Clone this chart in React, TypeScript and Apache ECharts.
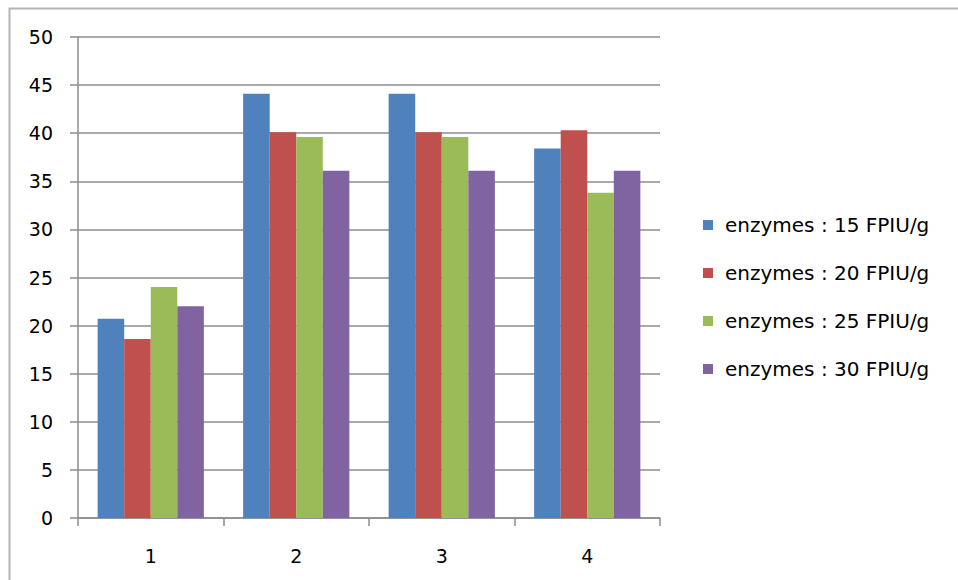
import React, { useEffect, useRef } from "react";
import * as echarts from "echarts";

const categories = ["1", "2", "3", "4"];
const seriesNames = [
  "enzymes : 15 FPIU/g",
  "enzymes : 20 FPIU/g",
  "enzymes : 25 FPIU/g",
  "enzymes : 30 FPIU/g",
];
const s15 = [20.7, 44.1, 44.1, 38.4];
const s20 = [18.6, 40.1, 40.1, 40.3];
const s25 = [24.0, 39.6, 39.6, 33.8];
const s30 = [22.0, 36.1, 36.1, 36.1];
const colors = ["#4F81BD", "#C0504D", "#9BBB59", "#8064A2"];
const yTicks = { min: 0, max: 50, interval: 5 };

export default function App() {
  const ref = useRef<HTMLDivElement>(null);
  useEffect(() => {
    if (!ref.current) return;
    const chart = echarts.init(ref.current, null, { renderer: "svg" });
    const font = "DejaVu Sans";
    const data = [s15, s20, s25, s30];
    chart.setOption({
      animation: false,
      backgroundColor: "#ffffff",
      color: colors,
      textStyle: { fontFamily: font },
      graphic: [
        {
          type: "rect",
          shape: { x: 9.5, y: 8.5, width: 1000, height: 600 },
          style: { fill: "none", stroke: "#b3b3b3", lineWidth: 2 },
          silent: true,
        },
      ],
      grid: { left: 78, top: 37, right: 298, bottom: 62, containLabel: false },
      legend: {
        orient: "vertical",
        left: 703,
        top: 215,
        padding: 0,
        itemWidth: 10,
        itemHeight: 10,
        itemGap: 28,
        icon: "rect",
        textStyle: {
          fontFamily: font,
          fontSize: 20,
          color: "#000",
          padding: [0, 0, 0, 7],
        },
        data: seriesNames,
      },
      xAxis: {
        type: "category",
        data: categories,
        axisLine: { lineStyle: { color: "#8c8c8c", width: 1.5 } },
        axisTick: { show: true, length: 8, lineStyle: { color: "#8c8c8c", width: 1.5 } },
        axisLabel: { color: "#000", fontSize: 19, fontFamily: font, margin: 28 },
        splitLine: { show: false },
      },
      yAxis: {
        type: "value",
        min: yTicks.min,
        max: yTicks.max,
        interval: yTicks.interval,
        axisLine: { show: true, lineStyle: { color: "#8c8c8c", width: 1.5 } },
        axisTick: { show: true, length: 8, lineStyle: { color: "#8c8c8c", width: 1.5 } },
        axisLabel: { color: "#000", fontSize: 19, fontFamily: font, margin: 25 },
        splitLine: { show: true, lineStyle: { color: "#8c8c8c", width: 1.5 } },
      },
      series: seriesNames.map((name, i) => ({
        name,
        type: "bar",
        data: data[i],
        barGap: "0%",
        barCategoryGap: "27%",
        itemStyle: { color: colors[i] },
      })),
    });
    return () => chart.dispose();
  }, []);
  return (
    <div
      ref={ref}
      style={{ position: "fixed", left: 0, top: 0, width: 958, height: 580 }}
    />
  );
}
